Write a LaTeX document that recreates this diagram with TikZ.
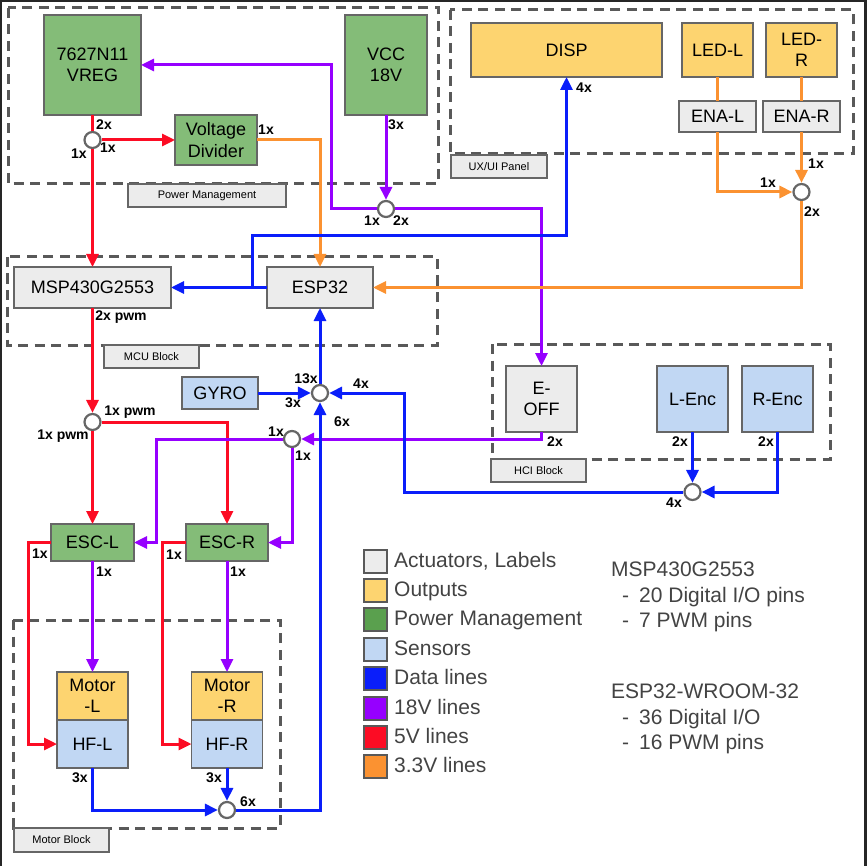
\documentclass[tikz,border=0pt]{standalone}
\usepackage{fontspec}
\setmainfont{Liberation Sans}
\usetikzlibrary{arrows.meta,positioning}
\definecolor{grisc}{RGB}{236,236,236}
\definecolor{borde}{RGB}{102,102,102}
\definecolor{grisb}{RGB}{89,89,89}
\definecolor{texto}{RGB}{67,67,67}
\definecolor{verdec}{RGB}{132,188,120}
\definecolor{verdef}{RGB}{90,160,78}
\definecolor{amar}{RGB}{253,212,112}
\definecolor{celeste}{RGB}{193,215,243}
\definecolor{azul}{RGB}{10,30,250}
\definecolor{morado}{RGB}{150,0,255}
\definecolor{rojo}{RGB}{252,12,36}
\definecolor{naranja}{RGB}{251,146,49}
\newcommand{\tam}[2]{\fontsize{#1}{#2}\selectfont}
\tikzset{
  caja/.style={draw=borde, line width=1.4pt, align=center, inner sep=2pt, outer sep=0pt, font=\tam{18}{21.5}},
  pot/.style={caja, fill=verdec},
  sal/.style={caja, fill=amar},
  sen/.style={caja, fill=celeste},
  act/.style={caja, fill=grisc},
  wh/.style 2 args={minimum width=#1, minimum height=#2},
  bloque/.style={draw=grisb, line width=3pt, dash pattern=on 10pt off 6.5pt},
  rot/.style={draw=borde, fill=grisc, line width=1.3pt, inner sep=0pt, font=\tam{11}{13}},
  nudo/.style={circle, draw=borde, fill=white, line width=2.2pt, minimum size=16pt, inner sep=0pt},
  cnt/.style={inner sep=0pt, font=\tam{14}{16}\bfseries},
  lin/.style={line width=3pt},
  fl/.style={-{Triangle[length=13pt,width=12pt]}, line width=3pt},
  muestra/.style={draw=grisb, line width=2pt, minimum size=23pt, inner sep=0pt},
  ley/.style={inner sep=0pt, text=texto, font=\tam{21}{25.5}},
}
\begin{document}
\begin{tikzpicture}[x=1pt,y=-1pt]
  \useasboundingbox (0,0) rectangle (866,866);
  \draw[line width=4pt, black!85] (0,866) -- (0,0) -- (866,0) -- (866,866);

  % dashed groups
  \draw[bloque] (8,8) rectangle (438,184);
  \draw[bloque] (450,10) rectangle (853,154);
  \draw[bloque] (7,257) rectangle (437,345);
  \draw[bloque] (492,344) rectangle (830,459);
  \draw[bloque] (13,620) rectangle (280,828);
  \node[rot, wh={158pt}{23pt}] (lpm) at (207,195.5) {Power Management};
  \node[rot, wh={96pt}{23pt}] (lux) at (499,166.5) {UX/UI Panel};
  \node[rot, wh={95pt}{23pt}] (lmcu) at (151.5,356.5) {MCU Block};
  \node[rot, wh={95pt}{23pt}] (lhci) at (538.5,470.5) {HCI Block};
  \node[rot, wh={95pt}{24pt}] (lmot) at (61.5,840) {Motor Block};

  % boxes
  \node[pot, wh={97pt}{100pt}] (vreg) at (92.5,65) {7627N11\\VREG};
  \node[pot, wh={82pt}{100pt}] (vcc) at (386,65) {VCC\\18V};
  \node[pot, wh={82pt}{50pt}] (vdiv) at (216,140) {Voltage\\Divider};
  \node[sal, wh={191pt}{54pt}] (disp) at (566.5,50) {DISP};
  \node[sal, wh={71pt}{54pt}] (ledl) at (717.5,50) {LED-L};
  \node[sal, wh={71pt}{54pt}] (ledr) at (801.5,50) {LED-\\R};
  \node[act, wh={77pt}{31pt}] (enal) at (717.5,116.5) {ENA-L};
  \node[act, wh={77pt}{31pt}] (enar) at (801.5,116.5) {ENA-R};
  \node[act, wh={157pt}{41pt}] (msp) at (92.5,287.5) {MSP430G2553};
  \node[act, wh={106pt}{41pt}] (esp) at (320,287.5) {ESP32};
  \node[sen, wh={76pt}{32pt}] (gyro) at (220,393) {GYRO};
  \node[act, wh={71pt}{66pt}] (eoff) at (541.5,399) {E-\\OFF};
  \node[sen, wh={71pt}{66pt}] (lenc) at (692.5,399) {L-Enc};
  \node[sen, wh={71pt}{66pt}] (renc) at (777.5,399) {R-Enc};
  \node[pot, wh={83pt}{37pt}] (escl) at (92.5,542.5) {ESC-L};
  \node[pot, wh={82pt}{37pt}] (escr) at (227,542.5) {ESC-R};
  \node[sal, wh={71pt}{48pt}] (motl) at (92.5,696) {Motor\\-L};
  \node[sen, wh={71pt}{48pt}, below=0pt of motl] (hfl) {HF-L};
  \node[sal, wh={71pt}{48pt}] (motr) at (227,696) {Motor\\-R};
  \node[sen, wh={71pt}{48pt}, below=0pt of motr] (hfr) {HF-R};

  % junctions
  \node[nudo] (j1) at (92.5,140) {};
  \node[nudo] (j2) at (386,209) {};
  \node[nudo] (j3) at (801.5,192) {};
  \node[nudo] (j4) at (92.5,422) {};
  \node[nudo] (j5) at (320,393) {};
  \node[nudo] (j6) at (292,439) {};
  \node[nudo] (j7) at (692.5,492) {};
  \node[nudo] (j8) at (227,810) {};
  \coordinate (bdisp) at (252,287.5);

  % 5V lines
  \draw[lin, rojo] (vreg.south) -- (j1);
  \draw[fl, rojo] (j1) -- (vdiv.west);
  \draw[fl, rojo] (j1) -- (msp.north);
  \draw[fl, rojo] (msp.south) -- (j4);
  \draw[fl, rojo] (j4) -- (escl.north);
  \draw[fl, rojo] (j4) -| (escr.north);
  \draw[fl, rojo] (escl.west) -- (28,542.5) |- (hfl.west);
  \draw[fl, rojo] (escr.west) -- (162,542.5) |- (hfr.west);

  % 18V lines
  \draw[fl, morado] (vcc.south) -- (j2);
  \draw[fl, morado] (j2) -- (331,209) |- (vreg.east);
  \draw[fl, morado] (j2) -| (eoff.north);
  \draw[fl, morado] (eoff.south) |- (j6);
  \draw[fl, morado] (j6) -- (156,439) |- (escl.east);
  \draw[fl, morado] (j6) |- (escr.east);
  \draw[fl, morado] (escl.south) -- (motl.north);
  \draw[fl, morado] (escr.south) -- (motr.north);

  % 3.3V lines
  \draw[fl, naranja] (vdiv.east) -| (esp.north);
  \draw[lin, naranja] (ledl.south) -- (enal.north);
  \draw[lin, naranja] (ledr.south) -- (enar.north);
  \draw[fl, naranja] (enal.south) |- (j3);
  \draw[fl, naranja] (enar.south) -- (j3);
  \draw[fl, naranja] (j3) |- (esp.east);

  % data lines
  \draw[fl, azul] (esp.west) -- (msp.east);
  \draw[fl, azul] (bdisp) -- (252,236) -| (disp.south);
  \draw[fl, azul] (gyro.east) -- (j5);
  \draw[fl, azul] (j5) -- (esp.south);
  \draw[fl, azul] (j7) -- (404,492) |- (j5);
  \draw[fl, azul] (lenc.south) -- (j7);
  \draw[fl, azul] (renc.south) |- (j7);
  \draw[fl, azul] (hfl.south) |- (j8);
  \draw[fl, azul] (hfr.south) -- (j8);
  \draw[fl, azul] (j8) -| (j5);

  % counts
  \node[cnt] (k1) at (104,125) {2x};
  \node[cnt] (k2) at (108,148) {1x};
  \node[cnt] (k3) at (79,154) {1x};
  \node[cnt] (k4) at (266,130) {1x};
  \node[cnt] (k5) at (396,125) {3x};
  \node[cnt] (k6) at (372,221) {1x};
  \node[cnt] (k7) at (401,221) {2x};
  \node[cnt] (k8) at (584,88) {4x};
  \node[cnt] (k9) at (816,164) {1x};
  \node[cnt] (k10) at (768,183) {1x};
  \node[cnt] (k11) at (812,212) {2x};
  \node[cnt] (k12) at (121,317) {2x pwm};
  \node[cnt] (k13) at (130,412) {1x pwm};
  \node[cnt] (k14) at (63,436) {1x pwm};
  \node[cnt] (k15) at (306,379) {13x};
  \node[cnt] (k16) at (293,403) {3x};
  \node[cnt] (k17) at (361,384) {4x};
  \node[cnt] (k18) at (342,422) {6x};
  \node[cnt] (k19) at (276,432) {1x};
  \node[cnt] (k20) at (303,456) {1x};
  \node[cnt] (k21) at (555,442) {2x};
  \node[cnt] (k22) at (680,442) {2x};
  \node[cnt] (k23) at (766,442) {2x};
  \node[cnt] (k24) at (674,503) {4x};
  \node[cnt] (k25) at (40,554) {1x};
  \node[cnt] (k26) at (104,572) {1x};
  \node[cnt] (k27) at (174,555) {1x};
  \node[cnt] (k28) at (238,572) {1x};
  \node[cnt] (k29) at (80,778) {3x};
  \node[cnt] (k30) at (214,778) {3x};
  \node[cnt] (k31) at (248,802) {6x};

  % legend
  \node[muestra, fill=grisc] (m1) at (375,561) {};
  \node[muestra, fill=amar] (m2) at (375,590.4) {};
  \node[muestra, fill=verdef] (m3) at (375,619.8) {};
  \node[muestra, fill=celeste] (m4) at (375,649.2) {};
  \node[muestra, fill=azul] (m5) at (375,678.6) {};
  \node[muestra, fill=morado] (m6) at (375,708) {};
  \node[muestra, fill=rojo] (m7) at (375,737.4) {};
  \node[muestra, fill=naranja] (m8) at (375,766.8) {};
  \node[ley, anchor=base west] (t1) at (394,567) {Actuators, Labels};
  \node[ley, anchor=base west] (t2) at (394,596.4) {Outputs};
  \node[ley, anchor=base west] (t3) at (394,625.8) {Power Management};
  \node[ley, anchor=base west] (t4) at (394,655.2) {Sensors};
  \node[ley, anchor=base west] (t5) at (394,684.6) {Data lines};
  \node[ley, anchor=base west] (t6) at (394,714) {18V lines};
  \node[ley, anchor=base west] (t7) at (394,743.4) {5V lines};
  \node[ley, anchor=base west] (t8) at (394,772.8) {3.3V lines};

  \node[ley, align=left, anchor=north west] (imsp) at (611,562)
    {MSP430G2553\\\hspace*{11pt}-\hspace{10pt}20 Digital I/O pins\\\hspace*{11pt}-\hspace{10pt}7 PWM pins};
  \node[ley, align=left, anchor=north west] (iesp) at (611,684)
    {ESP32-WROOM-32\\\hspace*{11pt}-\hspace{10pt}36 Digital I/O\\\hspace*{11pt}-\hspace{10pt}16 PWM pins};
\end{tikzpicture}
\end{document}
